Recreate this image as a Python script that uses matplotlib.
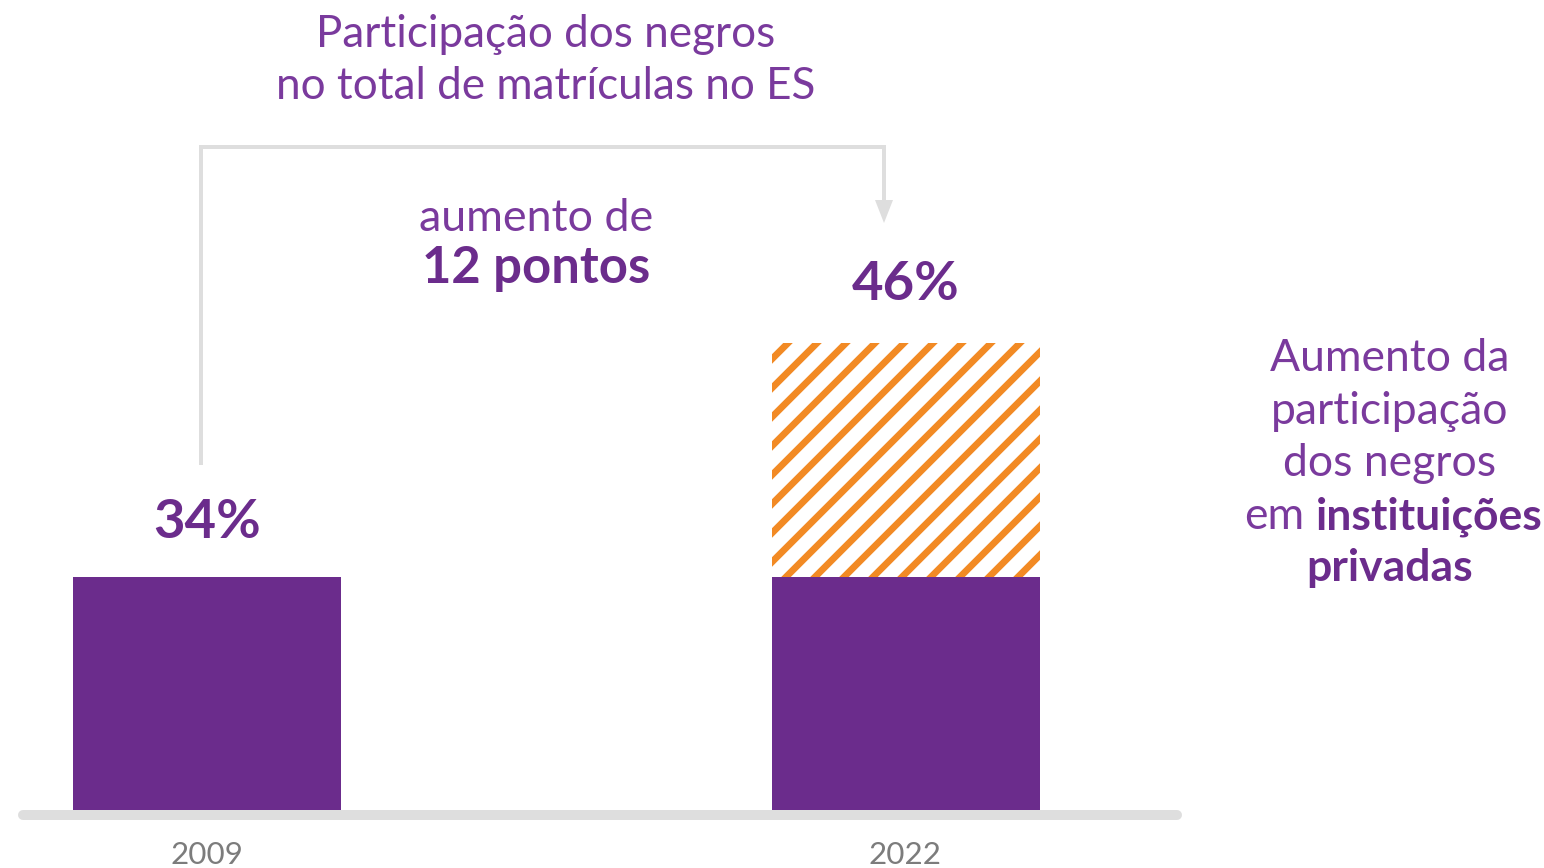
import numpy as np
import matplotlib
matplotlib.use('Agg')
import matplotlib.pyplot as plt
from matplotlib.patches import Polygon

##########
# Data
##########

years = ['2009', '2022']
share = [34, 46]          # participação dos negros no total de matrículas (%)
labels = ['34%', '46%']

title_lines = ['Participação dos negros', 'no total de matrículas no ES']
gain_lines = ['aumento de', '12 pontos']
side_lines = ['Aumento da', 'participação', 'dos negros', 'em', 'instituições', 'privadas']

##########
# Style
##########

DPI = 174   # hatch cell = dpi pixels, gives the wide stripes of the original
W, H = 1544, 868
PURPLE = '#6b2c8c'
TEXT_PURPLE = '#7a3a9d'
ORANGE = '#f28a24'
LIGHT_GRAY = '#dedede'
YEAR_GRAY = '#7c7c7c'

plt.rcParams['font.family'] = ['Lato', 'DejaVu Sans']
plt.rcParams['hatch.linewidth'] = 2.8


def pt(px):
    """pixels -> points at the figure dpi"""
    return px * 72 / DPI


# the original draws the 12-point rise as tall as the 34% base
base = share[0]
gain = share[1] - share[0]
stretch = base / gain


def fwd(y):
    y = np.asarray(y, dtype=float)
    return np.where(y <= base, y, base + (y - base) * stretch)


def inv(v):
    v = np.asarray(v, dtype=float)
    return np.where(v <= base, v, base + (v - base) / stretch)


fig = plt.figure(figsize=(W / DPI, H / DPI), dpi=DPI)
fig.patch.set_facecolor('white')

# overlay in pixel coordinates for text and decorations
ov = fig.add_axes([0, 0, 1, 1], zorder=0)
ov.set_xlim(0, W)
ov.set_ylim(H, 0)
ov.axis('off')

# bars
ax = fig.add_axes([73 / W, 58 / H, (1040 - 73) / W, (810 - 343) / H], zorder=1)
ax.patch.set_alpha(0)
ax.set_yscale('function', functions=(fwd, inv))
width = 0.384
ax.bar(years, [base, base], width=width, color=PURPLE, linewidth=0)
ax.bar(years[1], gain, bottom=base, width=width, color='white',
       edgecolor=ORANGE, hatch='//', linewidth=0)
ax.set_xlim(-width / 2, 1 + width / 2)
ax.set_ylim(0, share[1])
ax.axis('off')

for i, (v, lab) in enumerate(zip(share, labels)):
    ax.annotate(lab, (i, v), xytext=(0, pt(38 if i == 0 else 43)), textcoords='offset points',
                ha='center', va='baseline', fontsize=22.5, fontweight='bold', color=PURPLE)

# baseline under the bars
ov.plot([23, 1177], [815, 815], color=LIGHT_GRAY, lw=pt(10), solid_capstyle='round', zorder=0)

# year labels
for i, y in enumerate(years):
    ov.text(207 + i * 698, 864, y, ha='center', va='baseline', fontsize=13,
            color=YEAR_GRAY)

# title
for j, line in enumerate(title_lines):
    ov.text(546, 47 + j * 52, line, ha='center', va='baseline', fontsize=18.2, color=TEXT_PURPLE)

# bracket arrow
ov.plot([201, 201, 884, 884], [463, 147, 147, 205], color=LIGHT_GRAY, lw=pt(4),
        solid_joinstyle='miter')
ov.add_patch(Polygon([[875, 200], [893, 200], [884, 223]], closed=True,
                     facecolor=LIGHT_GRAY, edgecolor='none'))

# increase annotation
ov.text(536, 231, gain_lines[0], ha='center', va='baseline', fontsize=18.5, color=TEXT_PURPLE)
ov.text(536, 283, gain_lines[1], ha='center', va='baseline', fontsize=21,
        fontweight='bold', color=PURPLE)

# side note
fs = 18.4
ys = [371, 424, 476, 529, 529, 581]
ov.text(1390, ys[0], side_lines[0], ha='center', va='baseline', fontsize=fs, color=TEXT_PURPLE)
ov.text(1390, ys[1], side_lines[1], ha='center', va='baseline', fontsize=fs, color=TEXT_PURPLE)
ov.text(1390, ys[2], side_lines[2], ha='center', va='baseline', fontsize=fs, color=TEXT_PURPLE)
ov.text(1304, ys[3], side_lines[3], ha='right', va='baseline', fontsize=fs, color=TEXT_PURPLE)
ov.text(1316, ys[4], side_lines[4], ha='left', va='baseline', fontsize=fs,
        fontweight='bold', color=PURPLE)
ov.text(1390, ys[5], side_lines[5], ha='center', va='baseline', fontsize=fs,
        fontweight='bold', color=PURPLE)

fig.savefig('out.png', dpi=DPI, facecolor='white')
